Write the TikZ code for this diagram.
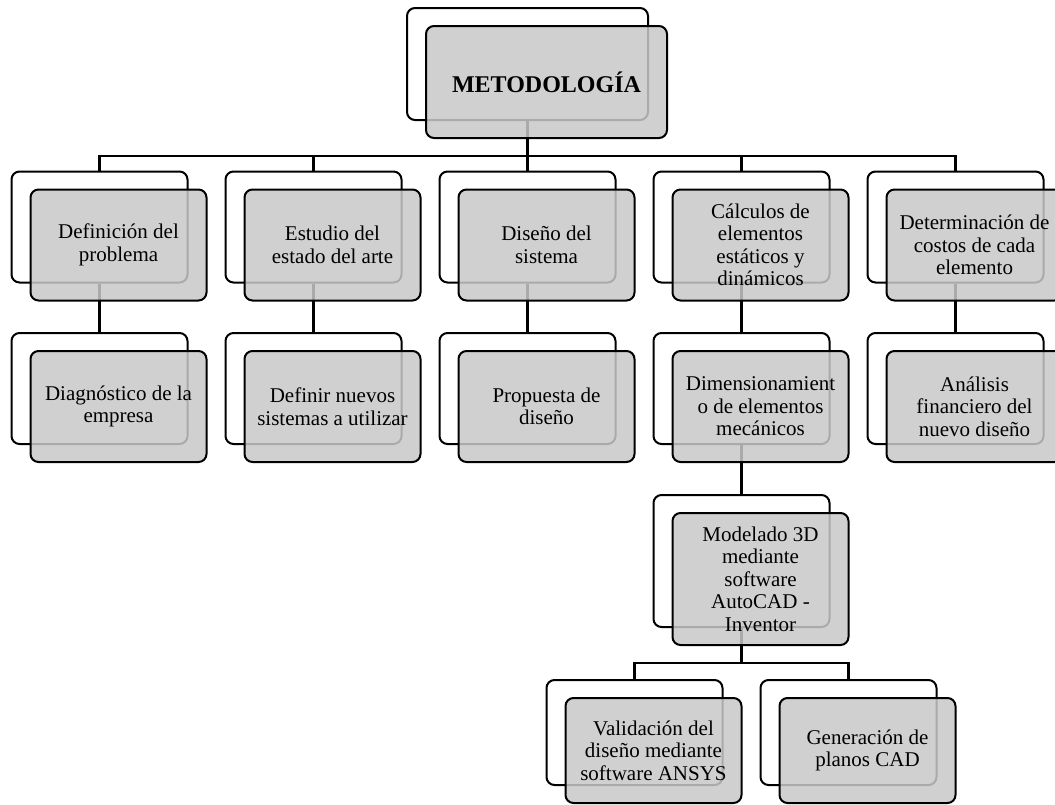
\documentclass[tikz,border=0pt]{standalone}
\usepackage{fontspec}
\setmainfont{Liberation Serif}
\definecolor{boxgray}{gray}{0.784}
\begin{document}
\begin{tikzpicture}[x=1pt,y=-1pt,
  backbox/.style={draw=black, line width=2pt, rounded corners=8pt, fill=white,
    minimum width=176pt, minimum height=111pt, inner sep=0pt},
  frontbox/.style={draw=black, line width=2pt, rounded corners=8pt, fill=boxgray,
    fill opacity=0.85, text opacity=1, minimum width=176pt, minimum height=111pt,
    inner sep=0pt, align=center, font=\fontsize{21}{22.5}\selectfont},
  link/.style={draw=black, line width=2.4pt}]
\useasboundingbox (0,0) rectangle (1055,804);

% back (white) boxes
\node[backbox, minimum width=241pt, minimum height=112pt] (b0) at (527.5,64) {};
\node[backbox] (b1) at (99.5,227) {};
\node[backbox] (b2) at (313.5,227) {};
\node[backbox] (b3) at (527.5,227) {};
\node[backbox] (b4) at (741.5,227) {};
\node[backbox] (b5) at (955.5,227) {};
\node[backbox] (b6) at (99.5,388.5) {};
\node[backbox] (b7) at (313.5,388.5) {};
\node[backbox] (b8) at (527.5,388.5) {};
\node[backbox] (b9) at (741.5,388.5) {};
\node[backbox] (b10) at (955.5,388.5) {};
\node[backbox, minimum height=132pt] (b11) at (741.5,561) {};
\node[backbox, minimum height=105pt] (b12) at (634.5,732.5) {};
\node[backbox, minimum height=105pt] (b13) at (848.5,732.5) {};

% connectors
\foreach \c in {b1,b2,b3,b4,b5}
  \draw[link] (b0.south) -- ++(0,35) -| (\c.north);
\draw[link] (b1.south) -- (b6.north);
\draw[link] (b2.south) -- (b7.north);
\draw[link] (b3.south) -- (b8.north);
\draw[link] (b4.south) -- (b9.north);
\draw[link] (b5.south) -- (b10.north);
\draw[link] (b9.south) -- (b11.north);
\draw[link] (b11.south) -- ++(0,35) -| (b12.north);
\draw[link] (b11.south) -- ++(0,35) -| (b13.north);

% front (gray) boxes with the texts
\node[frontbox, minimum width=241pt, minimum height=112pt, font=\fontsize{24}{26}\selectfont\bfseries]
  (f0) at ([shift={(19,18)}]b0.center) {METODOLOGÍA};
\node[frontbox] (f1) at ([shift={(19,18)}]b1.center) {Definición del\\problema};
\node[frontbox] (f2) at ([shift={(19,18)}]b2.center) {Estudio del\\estado del arte};
\node[frontbox] (f3) at ([shift={(19,18)}]b3.center) {Diseño del\\sistema};
\node[frontbox] (f4) at ([shift={(19,18)}]b4.center) {Cálculos de\\elementos\\estáticos y\\dinámicos};
\node[frontbox] (f5) at ([shift={(19,18)}]b5.center) {Determinación de\\costos de cada\\elemento};
\node[frontbox] (f6) at ([shift={(19,18)}]b6.center) {Diagnóstico de la\\empresa};
\node[frontbox] (f7) at ([shift={(19,18)}]b7.center) {Definir nuevos\\sistemas a utilizar};
\node[frontbox] (f8) at ([shift={(19,18)}]b8.center) {Propuesta de\\diseño};
\node[frontbox] (f9) at ([shift={(19,18)}]b9.center) {Dimensionamient\\o de elementos\\mecánicos};
\node[frontbox] (f10) at ([shift={(19,18)}]b10.center) {Análisis\\financiero del\\nuevo diseño};
\node[frontbox, minimum height=132pt] (f11) at ([shift={(19,18)}]b11.center)
  {Modelado 3D\\mediante\\software\\AutoCAD -\\Inventor};
\node[frontbox, minimum height=105pt] (f12) at ([shift={(19,18)}]b12.center)
  {Validación del\\diseño mediante\\software ANSYS};
\node[frontbox, minimum height=105pt] (f13) at ([shift={(19,18)}]b13.center)
  {Generación de\\planos CAD};
\end{tikzpicture}
\end{document}
